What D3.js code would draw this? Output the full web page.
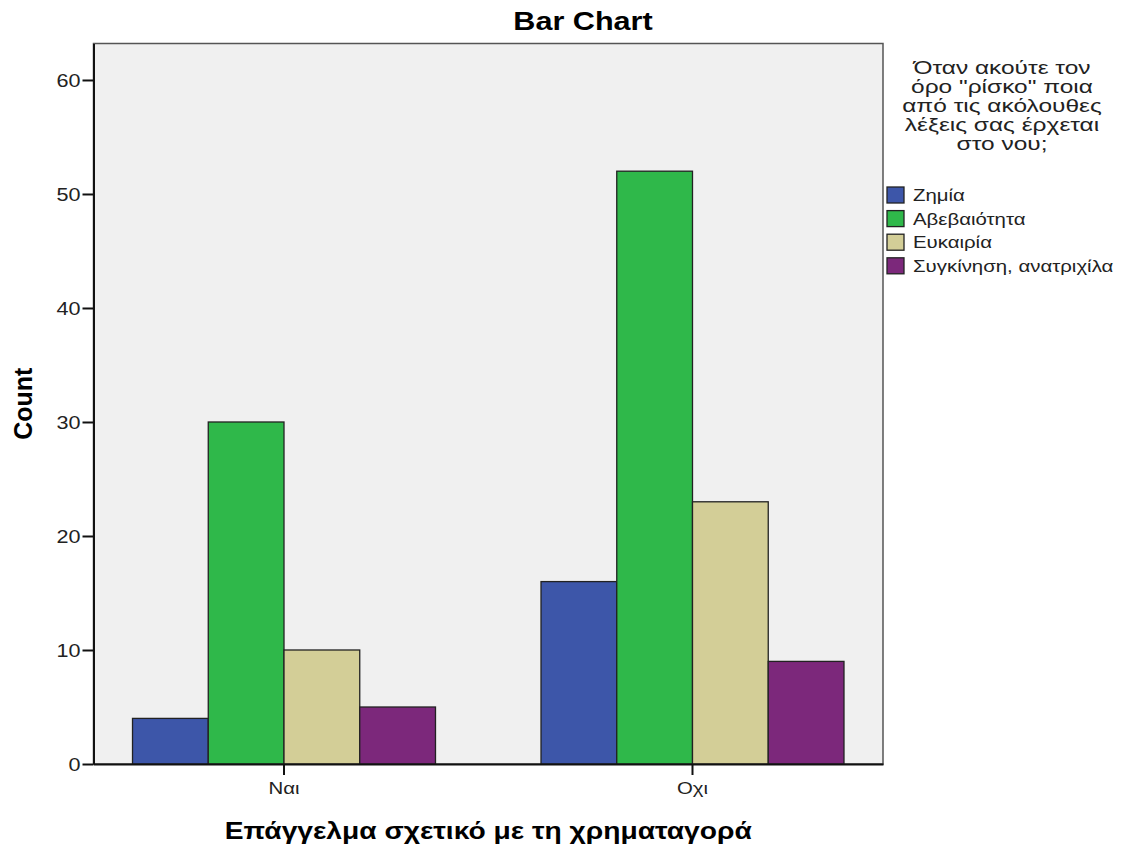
<!DOCTYPE html>
<html>
<head>
<meta charset="utf-8">
<script src="https://cdn.jsdelivr.net/npm/d3@7"></script>
<style>
  html, body { margin: 0; padding: 0; background: #ffffff; }
  svg { display: block; font-family: "Liberation Sans", Arial, sans-serif; }
</style>
</head>
<body>
<svg id="chart" width="1126" height="849"></svg>
<script>
const categories = ["Ναι", "Οχι"];
const seriesNames = ["Ζημία", "Αβεβαιότητα", "Ευκαιρία", "Συγκίνηση, ανατριχίλα"];
const valuesNai = [4, 30, 10, 5];
const valuesOxi = [16, 52, 23, 9];
const yTicks = [0, 10, 20, 30, 40, 50, 60];
const colors = ["#3d56a9", "#2fb84a", "#d3ce97", "#7c287b"];
const legendTitle = ["Όταν ακούτε τον", "όρο \"ρίσκο\" ποια", "από τις ακόλουθες", "λέξεις σας έρχεται", "στο νου;"];
const chartTitle = "Bar Chart";
const xTitle = "Επάγγελμα σχετικό με τη χρηματαγορά";
const yTitle = "Count";

const data = categories.map((c, i) => ({
  cat: c,
  vals: (i === 0 ? valuesNai : valuesOxi).map((v, j) => ({ series: seriesNames[j], value: v }))
}));

const SX = 1.2; // horizontal stretch of the original rendering
const svg = d3.select("#chart");
const L = 93.5, R = 883, T = 43.5, B = 764;

const x0 = d3.scaleBand().domain(categories).range([L, R]).paddingInner(0.2583).paddingOuter(0.0955);
const x1 = d3.scaleBand().domain(seriesNames).range([0, x0.bandwidth()]);
const y = d3.scaleLinear().domain([0, 63.2]).range([B, T]);
const color = d3.scaleOrdinal().domain(seriesNames).range(colors);

// plot background
svg.append("rect").attr("x", L).attr("y", T).attr("width", R - L).attr("height", B - T)
  .attr("fill", "#f0f0f0").attr("stroke", "#555").attr("stroke-width", 1.5);

// bars
const g = svg.append("g");
g.selectAll("g.grp").data(data).join("g").attr("class", "grp")
  .attr("transform", d => `translate(${x0(d.cat)},0)`)
  .selectAll("rect").data(d => d.vals).join("rect")
  .attr("x", d => x1(d.series))
  .attr("width", x1.bandwidth())
  .attr("y", d => y(d.value))
  .attr("height", d => y(0) - y(d.value))
  .attr("fill", d => color(d.series))
  .attr("stroke", "#222").attr("stroke-width", 1.3);

// y axis
const yAxis = svg.append("g").attr("transform", `translate(${L},0)`)
  .call(d3.axisLeft(y).tickValues(yTicks).tickSize(11).tickSizeOuter(0).tickFormat(d3.format("d")));
yAxis.select(".domain").attr("stroke", "#111").attr("stroke-width", 2);
yAxis.selectAll(".tick line").attr("stroke", "#111").attr("stroke-width", 2);
yAxis.selectAll(".tick text").attr("x", null).attr("dy", "0.36em")
  .attr("transform", `translate(-13,0) scale(${SX},1)`)
  .attr("font-size", 18).attr("fill", "#222").attr("font-family", "Liberation Sans, Arial, sans-serif");

// x axis
const xAxis = svg.append("g").attr("transform", `translate(0,${B})`)
  .call(d3.axisBottom(x0).tickSize(11).tickSizeOuter(0));
xAxis.select(".domain").attr("stroke", "#111").attr("stroke-width", 2);
xAxis.selectAll(".tick line").attr("stroke", "#111").attr("stroke-width", 2);
xAxis.selectAll(".tick text").attr("y", null).attr("dy", null)
  .attr("transform", `translate(0,30) scale(${SX},1)`)
  .attr("font-size", 17).attr("fill", "#222").attr("font-family", "Liberation Sans, Arial, sans-serif");

// titles
svg.append("text").attr("transform", `translate(583,30) scale(${SX},1)`)
  .attr("text-anchor", "middle").attr("font-weight", "bold").attr("font-size", 25.5).attr("fill", "#000")
  .text(chartTitle);
svg.append("text").attr("transform", `translate(${(L + R) / 2},839) scale(${SX},1)`)
  .attr("text-anchor", "middle").attr("font-weight", "bold").attr("font-size", 23.5).attr("fill", "#000")
  .text(xTitle);
svg.append("text").attr("transform", `translate(32,${(T + B) / 2}) rotate(-90)`)
  .attr("text-anchor", "middle").attr("font-weight", "bold").attr("font-size", 25).attr("fill", "#000")
  .text(yTitle);

// legend
const lg = svg.append("g");
lg.selectAll("text.lt").data(legendTitle).join("text").attr("class", "lt")
  .attr("transform", (d, i) => `translate(1002,${74 + i * 19}) scale(1.4,1)`)
  .attr("text-anchor", "middle").attr("font-size", 17.5).attr("fill", "#222").text(d => d);
const items = lg.selectAll("g.it").data(seriesNames).join("g").attr("class", "it")
  .attr("transform", (d, i) => `translate(887,${187 + i * 23.6})`);
items.append("rect").attr("width", 17).attr("height", 16)
  .attr("fill", d => color(d)).attr("stroke", "#222").attr("stroke-width", 1.3);
items.append("text").attr("transform", `translate(26,14) scale(${SX},1)`)
  .attr("font-size", 17).attr("fill", "#222").text(d => d);
</script>
</body>
</html>
